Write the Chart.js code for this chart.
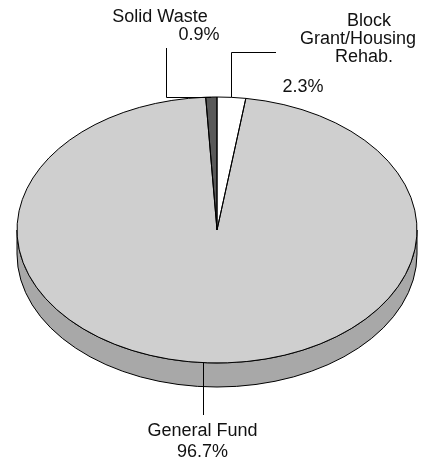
<!DOCTYPE html>
<html>
<head>
<meta charset="utf-8">
<script src="https://cdn.jsdelivr.net/npm/chart.js@4.4.1/dist/chart.umd.min.js"></script>
<style>
  html, body { margin: 0; padding: 0; background: #fff; }
</style>
</head>
<body>
<canvas id="fundPie" width="434" height="462"></canvas>
<script>
// data
const funds = ['Block Grant/Housing Rehab.', 'General Fund', 'Solid Waste'];
const shares = [2.3, 96.7, 0.9];
const topColors = ['#ffffff', '#cfcfcf', '#595959'];
const sideColors = ['#bcbcbc', '#a8a8a8', '#3a3a3a'];

// label text lines and where they sit
const labelLines = [['Block', 'Grant/Housing', 'Rehab.'], ['General Fund'], ['Solid Waste']];
const labelSpots = [
  { names: [[369, 26], [358, 44], [364, 62]], pct: [303, 92] },
  { names: [[202.5, 436]], pct: [202.5, 457] },
  { names: [[160, 22]], pct: [199, 40] }
];

const tilt = 0.665;   // ellipse squash
const depth = 24;     // thickness of the pie

function geom(chart) {
  const a = chart.getDatasetMeta(0).data[0];
  return { cx: a.x, cy: a.y, rx: a.outerRadius, ry: a.outerRadius * tilt };
}
function edgePoint(g, ang) {
  return { x: g.cx + g.rx * Math.cos(ang), y: g.cy + g.ry * Math.sin(ang) };
}

const pie3d = {
  id: 'pie3d',
  beforeDatasetsDraw(chart) {
    const ctx = chart.ctx, g = geom(chart);
    // front side wall
    chart.getDatasetMeta(0).data.forEach((arc, i) => {
      [0, 2 * Math.PI].forEach(shift => {
        const s = Math.max(arc.startAngle, shift);
        const e = Math.min(arc.endAngle, shift + Math.PI);
        if (e <= s) return;
        ctx.beginPath();
        ctx.ellipse(g.cx, g.cy + depth, g.rx, g.ry, 0, s, e);
        ctx.ellipse(g.cx, g.cy, g.rx, g.ry, 0, e, s, true);
        ctx.closePath();
        ctx.fillStyle = sideColors[i];
        ctx.fill();
        ctx.strokeStyle = '#000';
        ctx.lineWidth = 1;
        ctx.stroke();
      });
    });
    // squash the top face
    ctx.save();
    ctx.translate(0, g.cy);
    ctx.scale(1, tilt);
    ctx.translate(0, -g.cy);
  },
  afterDatasetsDraw(chart) {
    const ctx = chart.ctx, g = geom(chart);
    ctx.restore();
    ctx.strokeStyle = '#000';
    ctx.lineWidth = 1;
    chart.getDatasetMeta(0).data.forEach(arc => {
      ctx.beginPath();
      ctx.moveTo(g.cx, g.cy);
      ctx.ellipse(g.cx, g.cy, g.rx, g.ry, 0, arc.startAngle, arc.endAngle);
      ctx.closePath();
      ctx.stroke();
    });
  },
  afterDraw(chart) {
    const ctx = chart.ctx, g = geom(chart);
    const arcs = chart.getDatasetMeta(0).data;
    const mid = i => edgePoint(g, (arcs[i].startAngle + arcs[i].endAngle) / 2);

    ctx.save();
    ctx.strokeStyle = '#000';
    ctx.lineWidth = 1;
    // leader lines
    let p = mid(2);
    ctx.beginPath();
    ctx.moveTo(166.5, 48);
    ctx.lineTo(166.5, Math.round(p.y) + 0.5);
    ctx.lineTo(p.x, Math.round(p.y) + 0.5);
    ctx.stroke();

    p = mid(0);
    const bx = Math.round(p.x) + 0.5;
    ctx.beginPath();
    ctx.moveTo(276, 52.5);
    ctx.lineTo(bx, 52.5);
    ctx.lineTo(bx, p.y);
    ctx.stroke();

    const gx = 203.5;
    const gy = g.cy + g.ry * Math.sqrt(1 - Math.pow((gx - g.cx) / g.rx, 2));
    ctx.beginPath();
    ctx.moveTo(gx, gy);
    ctx.lineTo(gx, 415);
    ctx.stroke();

    // labels
    ctx.font = '18px "Liberation Sans", Arial, sans-serif';
    ctx.textAlign = 'center';
    ctx.textBaseline = 'alphabetic';
    ctx.fillStyle = '#111';
    labelLines.forEach((lines, i) => {
      lines.forEach((t, j) => {
        const s = labelSpots[i].names[j];
        ctx.fillText(t, s[0], s[1]);
      });
      const q = labelSpots[i].pct;
      ctx.fillText(shares[i].toFixed(1) + '%', q[0], q[1]);
    });
    ctx.restore();
  }
};

new Chart(document.getElementById('fundPie'), {
  type: 'pie',
  data: {
    labels: funds,
    datasets: [{
      data: shares,
      backgroundColor: topColors,
      borderWidth: 0,
      clip: false
    }]
  },
  options: {
    responsive: false,
    animation: false,
    events: [],
    layout: { padding: { left: 17, right: 17, top: 30, bottom: 32 } },
    plugins: {
      legend: { display: false },
      tooltip: { enabled: false },
      title: { display: false }
    }
  },
  plugins: [pie3d]
});
</script>
</body>
</html>
